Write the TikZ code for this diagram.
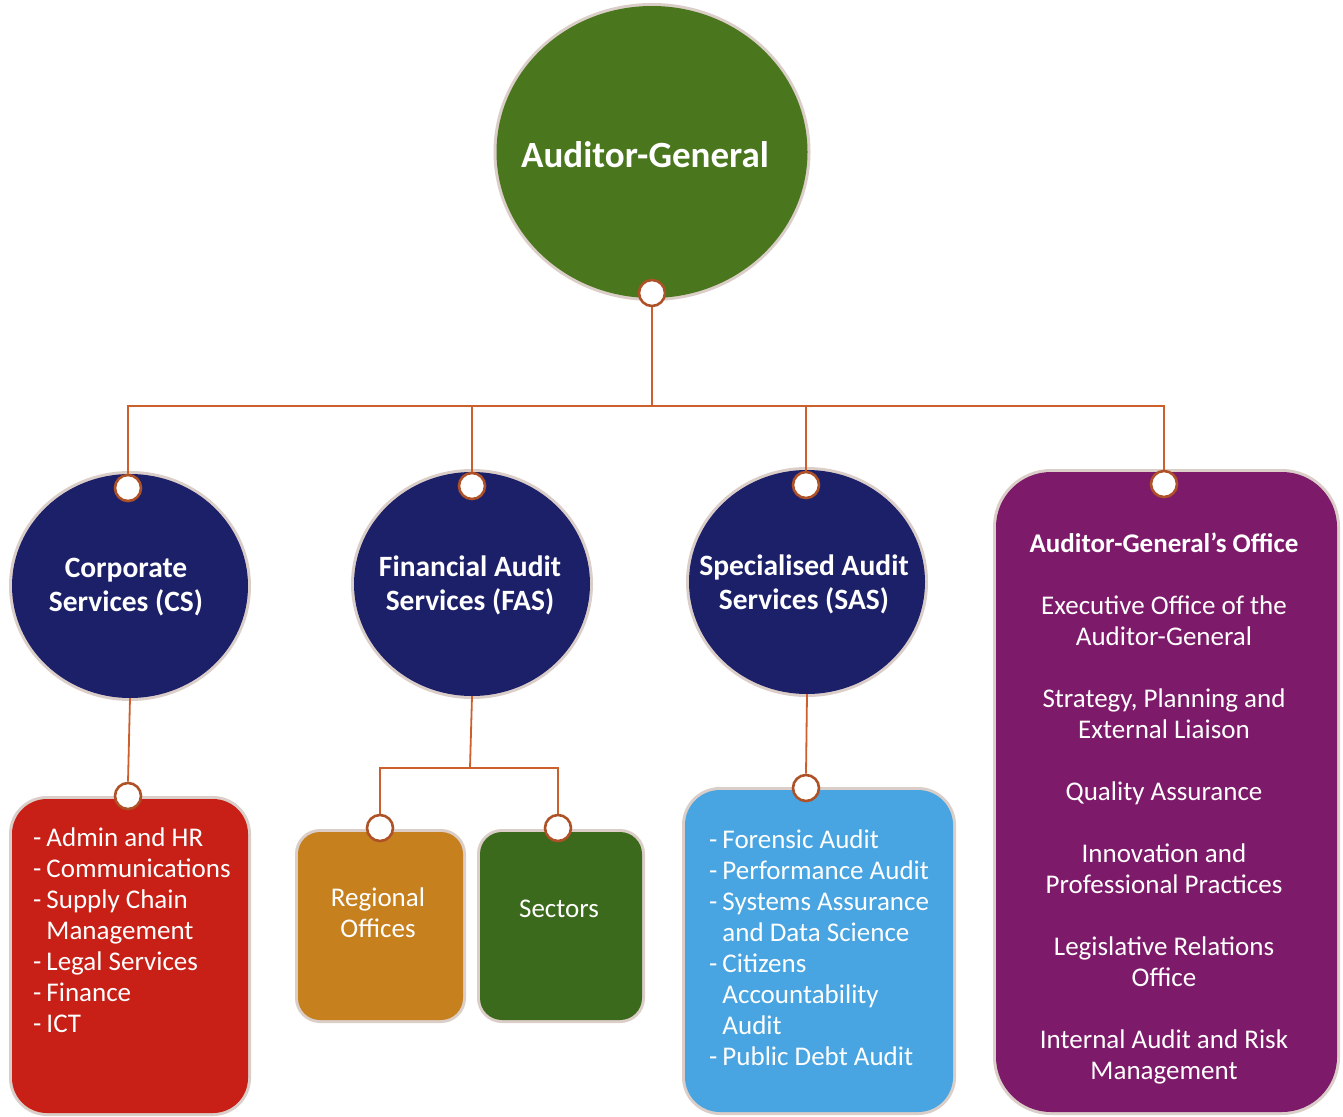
\documentclass[tikz,border=0pt]{standalone}
\usepackage{fontspec}
\setmainfont{Carlito}
\usetikzlibrary{shapes.geometric}
\definecolor{agreen}{RGB}{74,118,30}
\definecolor{navyc}{RGB}{28,32,105}
\definecolor{redbox}{RGB}{200,32,22}
\definecolor{orangebox}{RGB}{198,128,30}
\definecolor{greenbox}{RGB}{60,106,28}
\definecolor{bluebox}{RGB}{72,165,225}
\definecolor{purplebox}{RGB}{126,26,106}
\definecolor{connc}{RGB}{205,95,45}
\definecolor{haloc}{RGB}{110,60,35}
\begin{document}
\begin{tikzpicture}[x=1pt,y=-1pt,
 halo/.style={preaction={draw=haloc,line width=6pt,opacity=0.25}},
 bubble/.style={ellipse, inner sep=0pt, halo},
 panel/.style={rectangle, inner sep=0pt, halo},
 conn/.style={draw=connc, line width=1.8pt},
 pin/.style={circle, draw=connc!85!black, line width=2.6pt, fill=white,
   minimum size=26pt, inner sep=0pt},
 lbl/.style={text=white, inner sep=0pt, anchor=base,
   font=\fontsize{27}{31}\selectfont},
 head/.style={text=white, inner sep=0pt, anchor=base,
   font=\bfseries\fontsize{29.5}{34}\selectfont},
]
\useasboundingbox (0,0) rectangle (1343,1116);

% main shapes
\node[bubble, fill=agreen, minimum width=311pt, minimum height=292pt] (ag) at (652,152) {};
\node[bubble, fill=navyc, minimum width=236pt, minimum height=224pt] (cs) at (130,586) {};
\node[bubble, fill=navyc, minimum width=236pt, minimum height=224pt] (fas) at (472,584) {};
\node[bubble, fill=navyc, minimum width=236pt, minimum height=224pt] (sas) at (807,582) {};

\node[panel, fill=redbox, rounded corners=35pt, minimum width=236pt, minimum height=314pt] (csbox) at (130,956) {};
\node[panel, fill=orangebox, rounded corners=22pt, minimum width=165pt, minimum height=188pt] (robox) at (380.5,926) {};
\node[panel, fill=greenbox, rounded corners=22pt, minimum width=162pt, minimum height=188pt] (secbox) at (561,926) {};
\node[panel, fill=bluebox, rounded corners=35pt, minimum width=268pt, minimum height=322pt] (sasbox) at (819,951) {};
\node[panel, fill=purplebox, rounded corners=55pt, minimum width=341pt, minimum height=640pt] (agobox) at (1166.5,792) {};

% pins
\node[pin] (p0) at (652,293) {};
\node[pin] (p1) at (128,488) {};
\node[pin] (p2) at (472,486) {};
\node[pin] (p3) at (806,485) {};
\node[pin] (p4) at (1164,484) {};
\node[pin] (p5) at (128,796) {};
\node[pin] (p6) at (380,828) {};
\node[pin] (p7) at (558,828) {};
\node[pin] (p8) at (806,788) {};

% connectors
\coordinate (bus) at (652,406);
\coordinate (fasbus) at (470,768);
\draw[conn] (p0.south) -- (bus);
\draw[conn] (p1.north) |- (bus) -| (p4.north);
\draw[conn] (p2.north) -- (p2.north |- bus);
\draw[conn] (p3.north) -- (p3.north |- bus);
\draw[conn] (cs.south) -- (p5.north);
\draw[conn] (fas.south) -- (fasbus);
\draw[conn] (p6.north) |- (fasbus) -| (p7.north);
\draw[conn] (sas.south) -- (p8.north);

% headings
\node[head, font=\bfseries\fontsize{37}{40}\selectfont] (agtext) at (645,167) {Auditor-General};
\node[head] (cstext) at (126,577) {\begin{tabular}[t]{@{}c@{}}Corporate\\Services (CS)\end{tabular}};
\node[head] (fastext) at (470,576) {\begin{tabular}[t]{@{}c@{}}Financial Audit\\Services (FAS)\end{tabular}};
\node[head] (sastext) at (804,575) {\begin{tabular}[t]{@{}c@{}}Specialised Audit\\Services (SAS)\end{tabular}};

% texts
\node[lbl, anchor=base west] (cslist) at (33,846) {\begin{tabular}[t]{@{}l@{\hspace{5pt}}l@{}}-&Admin and HR\\-&Communications\\-&Supply Chain\\&Management\\-&Legal Services\\-&Finance\\-&ICT\end{tabular}};
\node[lbl] (rotext) at (378,906) {\begin{tabular}[t]{@{}c@{}}Regional\\Offices\end{tabular}};
\node[lbl] (sectext) at (559,917) {Sectors};
\node[lbl, anchor=base west] (saslist) at (709,848) {\begin{tabular}[t]{@{}l@{\hspace{5pt}}l@{}}-&Forensic Audit\\-&Performance Audit\\-&Systems Assurance\\&and Data Science\\-&Citizens\\&Accountability\\&Audit\\-&Public Debt Audit\end{tabular}};
\node[lbl] (agotext) at (1164,552) {\begin{tabular}[t]{@{}c@{}}\textbf{Auditor-General's Office}\\ \\ Executive Office of the\\Auditor-General\\ \\ Strategy, Planning and\\External Liaison\\ \\ Quality Assurance\\ \\ Innovation and\\Professional Practices\\ \\ Legislative Relations\\Office\\ \\ Internal Audit and Risk\\Management\end{tabular}};
\end{tikzpicture}
\end{document}
